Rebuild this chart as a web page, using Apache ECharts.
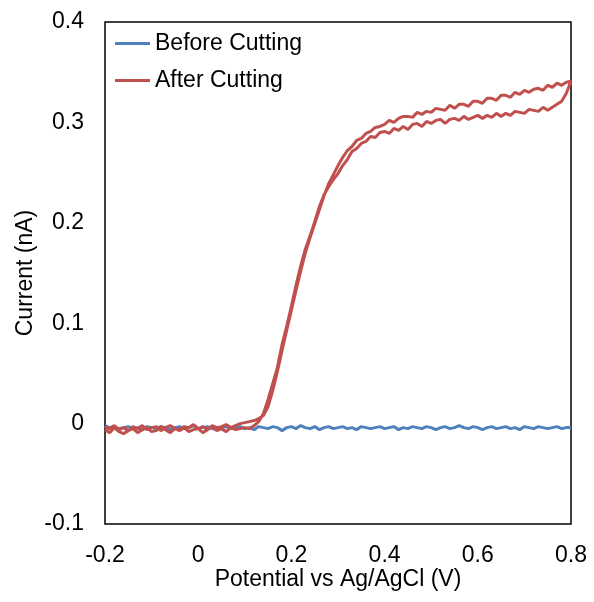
<!DOCTYPE html>
<html>
<head>
<meta charset="utf-8">
<script src="https://cdn.jsdelivr.net/npm/echarts@6/dist/echarts.min.js"></script>
<style>
  html, body { margin: 0; padding: 0; background: #fff; }
  #chart { width: 594px; height: 602px; }
</style>
</head>
<body>
<div id="chart"></div>
<script>
// Applied potential (V vs Ag/AgCl), sampled every 10 mV
const potential = [
  -0.20, -0.19, -0.18, -0.17, -0.16, -0.15, -0.14, -0.13, -0.12, -0.11,
  -0.10, -0.09, -0.08, -0.07, -0.06, -0.05, -0.04, -0.03, -0.02, -0.01,
   0.00,  0.01,  0.02,  0.03,  0.04,  0.05,  0.06,  0.07,  0.08,  0.09,
   0.10,  0.11,  0.12,  0.13,  0.14,  0.15,  0.16,  0.17,  0.18,  0.19,
   0.20,  0.21,  0.22,  0.23,  0.24,  0.25,  0.26,  0.27,  0.28,  0.29,
   0.30,  0.31,  0.32,  0.33,  0.34,  0.35,  0.36,  0.37,  0.38,  0.39,
   0.40,  0.41,  0.42,  0.43,  0.44,  0.45,  0.46,  0.47,  0.48,  0.49,
   0.50,  0.51,  0.52,  0.53,  0.54,  0.55,  0.56,  0.57,  0.58,  0.59,
   0.60,  0.61,  0.62,  0.63,  0.64,  0.65,  0.66,  0.67,  0.68,  0.69,
   0.70,  0.71,  0.72,  0.73,  0.74,  0.75,  0.76,  0.77,  0.78,  0.79,
   0.80
];

// Current (nA) before cutting
const beforeCurrent = [
  -0.002, -0.004, -0.003, -0.005, -0.004, -0.003, -0.005, -0.004, -0.006, -0.003,
  -0.004, -0.005, -0.003, -0.004, -0.006, -0.004, -0.003, -0.005, -0.004, -0.002,
  -0.005, -0.004, -0.003, -0.005, -0.006, -0.004, -0.003, -0.005, -0.004, -0.003,
  -0.005, -0.004, -0.006, -0.003, -0.004, -0.005, -0.003, -0.004, -0.007, -0.004,
  -0.003, -0.005, -0.002, -0.004, -0.005, -0.003, -0.006, -0.004, -0.003, -0.005,
  -0.004, -0.003, -0.005, -0.004, -0.006, -0.003, -0.004, -0.005, -0.004, -0.003,
  -0.005, -0.004, -0.003, -0.006, -0.004, -0.005, -0.003, -0.004, -0.005, -0.003,
  -0.004, -0.006, -0.004, -0.003, -0.005, -0.004, -0.002, -0.004, -0.005, -0.003,
  -0.004, -0.006, -0.004, -0.003, -0.005, -0.004, -0.003, -0.005, -0.004, -0.006,
  -0.003, -0.004, -0.005, -0.003, -0.004, -0.005, -0.004, -0.003, -0.005, -0.004,
  -0.004
];

// Current (nA) after cutting, anodic sweep (-0.2 V -> 0.8 V)
const afterForward = [
  -0.006, -0.009, -0.004, -0.008, -0.010, -0.007, -0.005, -0.009, -0.006, -0.004,
  -0.008, -0.007, -0.003, -0.006, -0.009, -0.005, -0.007, -0.004, -0.008, -0.006,
  -0.005, -0.009, -0.006, -0.003, -0.007, -0.005, -0.008, -0.004, -0.006, -0.005,
  -0.004, -0.005, -0.002,  0.002,  0.010,  0.024,  0.040,  0.056,  0.079,  0.097,
   0.117,  0.138,  0.157,  0.174,  0.187,  0.201,  0.216,  0.228,  0.236,  0.243,
   0.249,  0.257,  0.263,  0.271,  0.274,  0.279,  0.281,  0.286,  0.285,  0.290,
   0.291,  0.289,  0.294,  0.292,  0.296,  0.293,  0.298,  0.299,  0.296,  0.301,
   0.299,  0.302,  0.303,  0.299,  0.303,  0.304,  0.302,  0.306,  0.303,  0.305,
   0.307,  0.304,  0.307,  0.305,  0.309,  0.306,  0.309,  0.307,  0.311,  0.310,
   0.309,  0.313,  0.312,  0.311,  0.315,  0.312,  0.315,  0.318,  0.321,  0.329,
   0.341
];

// Current (nA) after cutting, return sweep, listed by ascending potential
const afterReverse = [
  -0.003, -0.005, -0.002, -0.006, -0.004, -0.007, -0.003, -0.005, -0.002, -0.006,
  -0.004, -0.003, -0.007, -0.004, -0.002, -0.005, -0.006, -0.003, -0.004, -0.001,
  -0.005, -0.003, -0.006, -0.002, -0.004, -0.003, -0.001, -0.004, -0.002,  0.000,
   0.001,  0.002,  0.003,  0.005,  0.008,  0.017,  0.033,  0.052,  0.073,  0.093,
   0.113,  0.133,  0.152,  0.170,  0.185,  0.199,  0.213,  0.227,  0.239,  0.248,
   0.257,  0.265,  0.272,  0.276,  0.282,  0.284,  0.289,  0.291,  0.295,  0.296,
   0.298,  0.302,  0.300,  0.304,  0.306,  0.306,  0.305,  0.310,  0.308,  0.311,
   0.310,  0.314,  0.313,  0.312,  0.317,  0.314,  0.318,  0.318,  0.316,  0.321,
   0.321,  0.319,  0.324,  0.324,  0.322,  0.327,  0.327,  0.325,  0.330,  0.328,
   0.332,  0.330,  0.333,  0.334,  0.332,  0.337,  0.335,  0.339,  0.337,  0.340,
   0.342
];

const xTicks = { min: -0.2, max: 0.8, step: 0.2 };
const yTicks = { min: -0.1, max: 0.4, step: 0.1 };

function pairs(xs, ys) {
  const out = [];
  const n = Math.min(xs.length, ys.length);
  for (let i = 0; i < n; i++) out.push([xs[i], ys[i]]);
  return out;
}

// closed voltammogram loop: forward sweep then the return sweep back down
const afterLoop = pairs(potential, afterForward)
  .concat(pairs(potential, afterReverse).reverse());

const FONT = 'Liberation Sans, Arial, sans-serif';
const fmt = v => String(+v.toFixed(1));

const chart = echarts.init(document.getElementById('chart'), null, { renderer: 'canvas' });
chart.setOption({
  animation: false,
  backgroundColor: '#fff',
  textStyle: { fontFamily: FONT },
  grid: {
    left: 105, right: 23, top: 22, bottom: 78,
    show: true, borderColor: '#000', borderWidth: 1.5, backgroundColor: 'transparent'
  },
  legend: {
    orient: 'vertical',
    left: 115, top: 32,
    padding: 0,
    icon: 'rect',
    itemWidth: 35, itemHeight: 3, itemGap: 14,
    textStyle: { fontFamily: FONT, fontSize: 23, color: '#000' },
    data: ['Before Cutting', 'After Cutting']
  },
  xAxis: {
    type: 'value',
    min: xTicks.min, max: xTicks.max, interval: xTicks.step,
    name: 'Potential vs Ag/AgCl (V)',
    nameLocation: 'middle', nameGap: 44,
    nameMoveOverlap: false,
    nameTextStyle: { fontFamily: FONT, fontSize: 23, color: '#000' },
    axisLine: { show: false, onZero: false },
    axisTick: { show: false },
    splitLine: { show: false },
    axisLabel: { fontFamily: FONT, fontSize: 23, color: '#000', margin: 20, formatter: fmt }
  },
  yAxis: {
    type: 'value',
    min: yTicks.min, max: yTicks.max, interval: yTicks.step,
    name: 'Current (nA)',
    nameLocation: 'middle', nameGap: 68,
    nameMoveOverlap: false,
    nameTextStyle: { fontFamily: FONT, fontSize: 23, color: '#000' },
    axisLine: { show: false },
    axisTick: { show: false },
    splitLine: { show: false },
    axisLabel: { fontFamily: FONT, fontSize: 23, color: '#000', margin: 21, formatter: fmt }
  },
  series: [
    {
      name: 'Before Cutting',
      type: 'line',
      data: pairs(potential, beforeCurrent),
      symbol: 'none',
      color: '#4F81BD',
      lineStyle: { width: 3, color: '#4F81BD' }
    },
    {
      name: 'After Cutting',
      type: 'line',
      data: afterLoop,
      symbol: 'none',
      color: '#C0504D',
      lineStyle: { width: 3, color: '#C0504D' }
    }
  ]
});
</script>
</body>
</html>
